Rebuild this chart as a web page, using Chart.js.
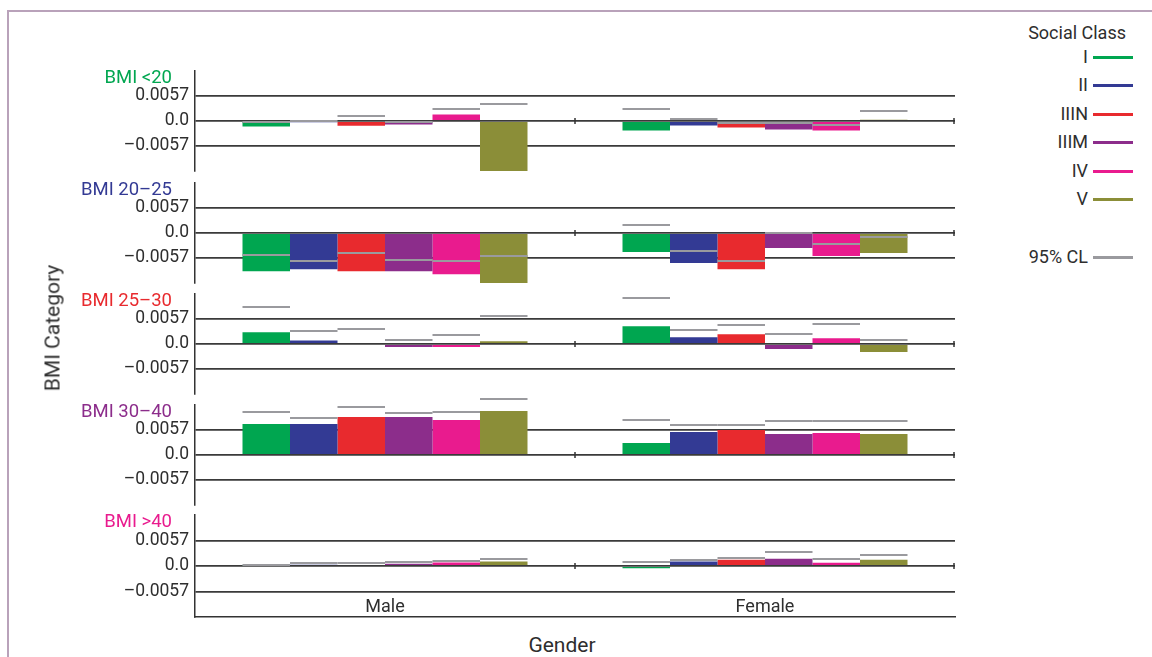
<!DOCTYPE html>
<html>
<head>
<meta charset="utf-8">
<script src="https://cdn.jsdelivr.net/npm/chart.js@4.4.1/dist/chart.umd.min.js"></script>
<style>
body { margin:0; background:#fff; width:1152px; height:657px; overflow:hidden; position:relative; font-family: Roboto, sans-serif; font-weight:400; color:#2e2e2e; }
#frame { position:absolute; left:7px; top:10px; width:1200px; height:700px; border-left:2px solid #b9a2ba; border-top:2px solid #b9a2ba; }
canvas.panel { position:absolute; left:0; }
.lbl { position:absolute; white-space:nowrap; transform:translateY(-50%); line-height:1; }
</style>
</head>
<body>
<div id="frame"></div>
<div id="wrap"></div>
<script>
var genders = ['Male', 'Female'];
var classNames = ['I', 'II', 'IIIN', 'IIIM', 'IV', 'V'];
var classColors = ['#00a650', '#333a94', '#e82a2e', '#8c2d8b', '#e91b8e', '#8b8e38'];
var bmiNames = ['BMI <20', 'BMI 20–25', 'BMI 25–30', 'BMI 30–40', 'BMI >40'];
var bmiColors = ['#00a650', '#333a94', '#e82a2e', '#8c2d8b', '#e91b8e'];
var yTickValues = [-0.0057, 0, 0.0057];
var yTickLabels = ['–0.0057', '0.0', '0.0057'];

// one row per social class: [male, female]
var bmiUnder20   = [[-0.00125, -0.00217], [-0.0003, -0.0010], [-0.0011, -0.00148], [-0.0008, -0.00194], [0.00146, -0.00217], [-0.01163, 0.0003]];
var bmiUnder20CL = [[-0.0003, 0.00268], [0.0, 0.00037], [0.00107, -0.00055], [-0.0002, -0.00055], [0.00268, -0.00085], [0.00383, 0.0022]];

var bmi20to25   = [[-0.0087, -0.00431], [-0.00824, -0.00685], [-0.0087, -0.00824], [-0.0087, -0.0034], [-0.0094, -0.00524], [-0.01147, -0.00455]];
var bmi20to25CL = [[-0.00508, 0.00177], [-0.00639, -0.00408], [-0.00455, -0.00639], [-0.00616, -0.0001], [-0.00639, -0.00254], [-0.00524, -0.00085]];

var bmi25to30   = [[0.00267, 0.00403], [0.00078, 0.00153], [0.0, 0.00221], [-0.00068, -0.00114], [-0.00068, 0.0013], [0.0006, -0.00182]];
var bmi25to30CL = [[0.00844, 0.01049], [0.0029, 0.00319], [0.00335, 0.00433], [0.001, 0.00228], [0.00205, 0.00449], [0.00638, 0.001]];

var bmi30to40   = [[0.00707, 0.00274], [0.00707, 0.00524], [0.00866, 0.0057], [0.00866, 0.00479], [0.00798, 0.00502], [0.01003, 0.00479]];
var bmi30to40CL = [[0.0098, 0.00798], [0.0085, 0.00684], [0.01094, 0.00684], [0.00958, 0.00775], [0.0098, 0.00775], [0.01284, 0.00775]];

var bmiOver40   = [[0.0001, -0.00053], [0.0003, 0.001], [0.0002, 0.0014], [0.0005, 0.00163], [0.0008, 0.00073], [0.001, 0.0014]];
var bmiOver40CL = [[0.00013, 0.0008], [0.0006, 0.00134], [0.0006, 0.00178], [0.001, 0.00303], [0.0011, 0.00156], [0.00156, 0.00236]];

var panelValues = [bmiUnder20, bmi20to25, bmi25to30, bmi30to40, bmiOver40];
var panelCL = [bmiUnder20CL, bmi20to25CL, bmi25to30CL, bmi30to40CL, bmiOver40CL];

// layout
var panelTops = [71, 183, 294, 405, 515];
var panelHeights = [100, 100, 100, 100, 102];
var padTop = 14, padBottom = 6, canvasW = 960;

var wrap = document.getElementById('wrap');

function label(text, x, y, size, color, align, extra) {
    var d = document.createElement('div');
    d.className = 'lbl';
    d.textContent = text;
    d.style.fontSize = size + 'px';
    d.style.top = y + 'px';
    if (color) d.style.color = color;
    if (align == 'right') { d.style.right = (1152 - x) + 'px'; }
    else if (align == 'center') { d.style.left = x + 'px'; d.style.transform = 'translate(-50%,-50%)'; }
    else { d.style.left = x + 'px'; }
    if (extra) extra(d);
    document.body.appendChild(d);
    return d;
}

function makeCLPlugin(cl, showGender) {
    return {
        id: 'clLines',
        afterDatasetsDraw: function(chart) {
            var ctx = chart.ctx, ys = chart.scales.y, xs = chart.scales.x;
            ctx.save();
            ctx.strokeStyle = '#9a9a9e';
            ctx.lineWidth = 2;
            chart.data.datasets.forEach(function(ds, i) {
                chart.getDatasetMeta(i).data.forEach(function(bar, j) {
                    var py = Math.round(ys.getPixelForValue(cl[i][j]));
                    ctx.beginPath();
                    ctx.moveTo(bar.x - bar.width / 2, py);
                    ctx.lineTo(bar.x + bar.width / 2, py);
                    ctx.stroke();
                });
            });
            // small ticks on the zero line at the category edges
            var zy = ys.getPixelForValue(0);
            var edges = [(xs.getPixelForValue(0) + xs.getPixelForValue(1)) / 2, chart.chartArea.right - 1];
            ctx.strokeStyle = '#333';
            ctx.lineWidth = 1.5;
            edges.forEach(function(ex) {
                ctx.beginPath();
                ctx.moveTo(ex, zy - 3);
                ctx.lineTo(ex, zy + 3);
                ctx.stroke();
            });
            // gender labels sit inside the bottom panel, above its x axis line
            if (showGender) {
                ctx.fillStyle = '#2e2e2e';
                ctx.font = '400 18px Roboto';
                ctx.textAlign = 'center';
                ctx.textBaseline = 'middle';
                genders.forEach(function(g, j) {
                    ctx.fillText(g, xs.getPixelForValue(j), chart.chartArea.bottom - 10);
                });
            }
            ctx.restore();
        }
    };
}

function drawPanel(k) {
    var last = (k == panelValues.length - 1);
    var cv = document.createElement('canvas');
    cv.className = 'panel';
    cv.width = canvasW;
    cv.height = padTop + panelHeights[k] + padBottom;
    cv.style.top = (panelTops[k] - padTop) + 'px';
    wrap.appendChild(cv);

    var datasets = classNames.map(function(name, i) {
        return {
            label: name,
            data: panelValues[k][i],
            backgroundColor: classColors[i],
            borderWidth: 0,
            barPercentage: 1,
            categoryPercentage: 0.75
        };
    });

    new Chart(cv, {
        type: 'bar',
        data: { labels: genders, datasets: datasets },
        options: {
            responsive: false,
            animation: false,
            events: [],
            layout: { padding: { top: padTop, bottom: padBottom, left: 0, right: 5 } },
            plugins: { legend: { display: false }, tooltip: { enabled: false } },
            scales: {
                x: {
                    display: last,
                    grid: { display: false, drawTicks: false },
                    border: { display: true, color: '#333', width: 1.5 },
                    ticks: { display: false },
                    afterFit: function(s) { s.height = 0; s.paddingLeft = 0; s.paddingRight = 0; }
                },
                y: {
                    min: -0.0114,
                    max: 0.0114,
                    afterBuildTicks: function(s) { s.ticks = yTickValues.map(function(v) { return { value: v }; }); },
                    afterFit: function(s) { s.width = 195; s.paddingTop = 0; s.paddingBottom = 0; },
                    grid: { color: '#3a3a3a', lineWidth: 1.8, drawTicks: false },
                    border: { display: true, color: '#333', width: 1.5 },
                    ticks: {
                        padding: 6,
                        color: '#2e2e2e',
                        font: { family: 'Roboto', size: 17.5, weight: 400 },
                        callback: function(v) {
                            var idx = yTickValues.indexOf(v);
                            return idx >= 0 ? yTickLabels[idx] : '';
                        }
                    }
                }
            }
        },
        plugins: [makeCLPlugin(panelCL[k], last)]
    });

    label(bmiNames[k], 172, panelTops[k] + 6, 18.5, bmiColors[k], 'right');
}

for (var k = 0; k < panelValues.length; k++) drawPanel(k);

// legend
label('Social Class', 1126, 33, 18, '#2e2e2e', 'right');
classNames.forEach(function(name, i) {
    var cy = Math.round(57 + i * 28.4);
    label(name, 1088, cy, 18, '#2e2e2e', 'right');
    var ln = document.createElement('div');
    ln.style.cssText = 'position:absolute;left:1093px;width:40px;height:3px;top:' + (cy - 1) + 'px;background:' + classColors[i];
    document.body.appendChild(ln);
});
label('95% CL', 1088, 257, 18, '#2e2e2e', 'right');
var cln = document.createElement('div');
cln.style.cssText = 'position:absolute;left:1093px;width:40px;height:3px;top:256px;background:#9a9a9e';
document.body.appendChild(cln);

// axis titles
label('Gender', 562, 645, 21, '#2e2e2e', 'center');
label('BMI Category', 53, 328, 21, '#2e2e2e', 'center', function(d) { d.style.transform = 'translate(-50%,-50%) rotate(-90deg)'; });
</script>
</body>
</html>
